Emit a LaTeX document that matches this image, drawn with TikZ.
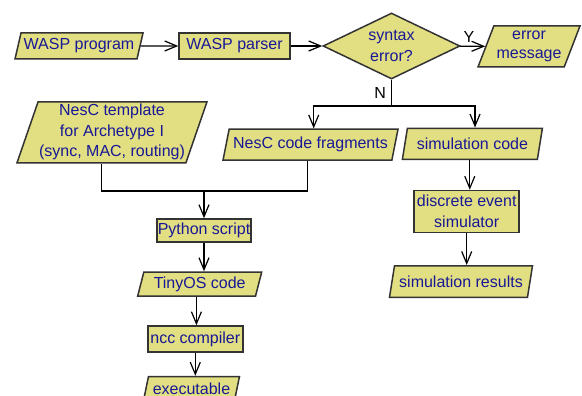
\documentclass[tikz,border=0pt]{standalone}
\usepackage{fontspec}
\setmainfont{Liberation Sans}
\usetikzlibrary{shapes.geometric,arrows.meta}
\definecolor{boxfill}{RGB}{226,222,130}
\definecolor{boxtext}{RGB}{24,24,150}

\begin{document}
\begin{tikzpicture}[x=1pt, y=-1pt, ->, >={Straight Barb[length=12pt,width=10pt]}, line width=1.2pt,
  every node/.style={font=\fontsize{16}{20.5}\selectfont},
  box/.style={draw=black!80, line width=1.5pt, fill=boxfill, text=boxtext, align=center, inner sep=1pt},
  io node/.style={box, trapezium, trapezium left angle=70, trapezium right angle=110, trapezium stretches body},
  proc node/.style={box, rectangle},
  test node/.style={box, diamond, aspect=2}]

        \useasboundingbox (0,0) rectangle (582,396);

        \node[io node, minimum width=128pt, minimum height=26pt] (prog) at (79,46) {WASP program};
        \node[proc node, minimum width=111pt, minimum height=26pt] (parser) at (234.5,46) {WASP parser};
        \node[test node, minimum width=137pt, minimum height=66pt] (cond) at (391.5,46) {syntax\\error?};
        \node[io node, trapezium left angle=64, trapezium right angle=116, minimum width=102pt, minimum height=41pt,
              font=\fontsize{16}{18.5}\selectfont] (err) at (529,46.5) {error\\message};

        \node[io node, minimum width=190pt, minimum height=61pt] (tmpl) at (112,132.3) {NesC template\\for Archetype I\\(sync, MAC, routing)};
        \node[io node, minimum width=175pt, minimum height=31pt] (frag) at (310.5,144.7) {NesC code fragments};
        \node[io node, minimum width=140pt, minimum height=31pt] (simcode) at (472.4,143.8) {simulation code};

        \node[proc node, minimum width=94pt, minimum height=23pt] (python) at (204,230.5) {Python script};
        \node[io node, minimum width=124pt, minimum height=24pt] (tinyos) at (199.7,284) {TinyOS code};
        \node[proc node, minimum width=95pt, minimum height=26pt] (ncc) at (195.3,339) {ncc compiler};
        \node[io node, minimum width=96pt, minimum height=24pt] (exec) at (191.5,388.5) {executable};

        \node[proc node, minimum width=105pt, minimum height=42pt] (des) at (466.7,211.5) {discrete event\\simulator};
        \node[io node, minimum width=143pt, minimum height=31.5pt] (simres) at (461,281.5) {simulation results};

        \coordinate (split) at (391.5,106);
        \coordinate (join) at (204,191);

        % Edges
        \draw (prog) -- (parser);
        \draw (parser) -- (cond);
        \draw (cond) -- node[above=3pt, pos=0.35, inner sep=0pt] {Y} (err);
        \draw[-] (cond) -- node[left=5pt, inner sep=0pt] {N} (split);
        \draw (split) -| (frag.top side);
        \draw (split) -| (simcode.top side);
        \draw[-] (tmpl.bottom side) |- (join) -| (frag.bottom side);
        \draw (join) -- (python);

        \foreach \a/\b in {python.south/tinyos.top side, tinyos.bottom side/ncc.north, ncc.south/exec.top side,
                           simcode.bottom side/des.north, des.south/simres.top side} {
            \draw (\a) -- (\a |- \b);
        }
    \end{tikzpicture}
\end{document}
